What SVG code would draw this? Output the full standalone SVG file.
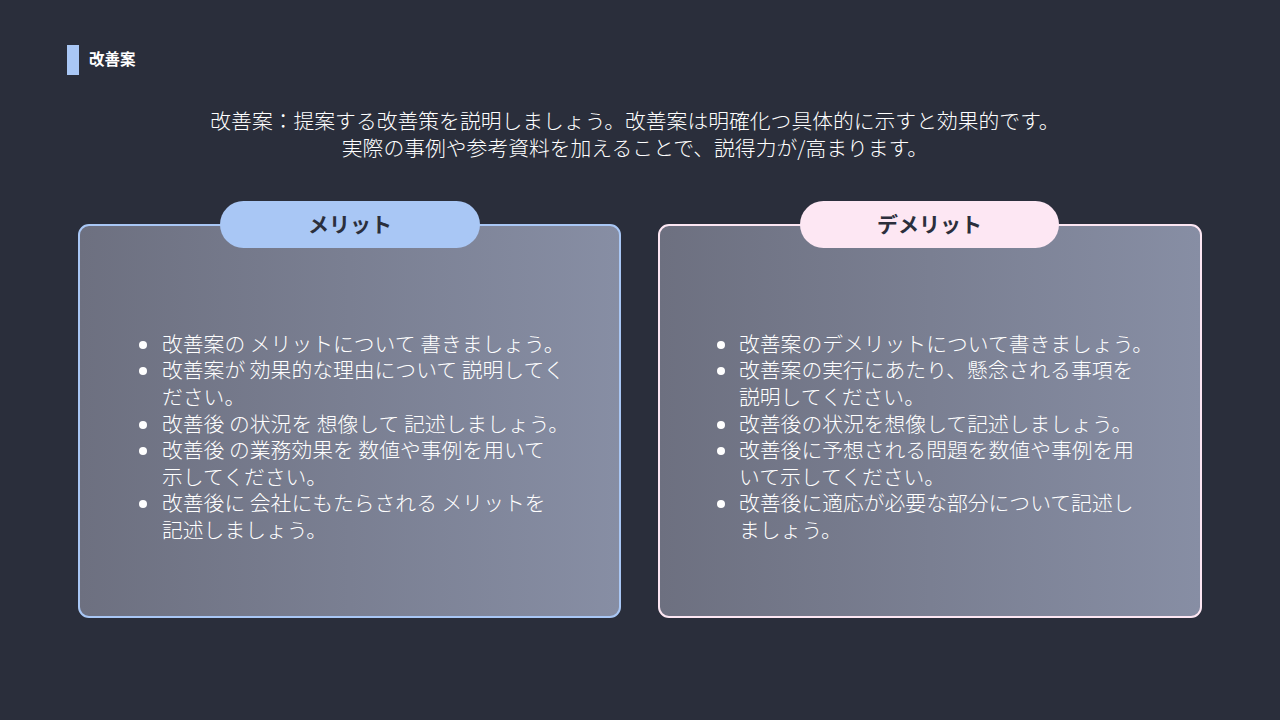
<svg xmlns="http://www.w3.org/2000/svg" width="1280" height="720" viewBox="0 0 1280 720">
<style>
text{font-family:"Noto Sans CJK JP","Noto Sans",sans-serif}
.b{fill:#fff;font-size:20.8px;font-weight:300}
.t{fill:#2b2f3c;font-size:21px;font-weight:bold}
.d{fill:#fff}
</style>
<defs>
<linearGradient id="g" x1="0" y1="0" x2="1" y2="0">
<stop offset="0" stop-color="#6d7080"/>
<stop offset="1" stop-color="#878ea4"/>
</linearGradient>
</defs>
<rect width="1280" height="720" fill="#2a2e3b"/>
<g id="header">
<rect x="67" y="45" width="12" height="30" fill="#a9c7f5"/>
<text x="89" y="65" fill="#fff" font-size="15.5" font-weight="bold">改善案</text>
</g>
<g id="subtitle" fill="#fff" font-size="20.8" font-weight="300" text-anchor="middle">
<text x="635" y="129">改善案：提案する改善策を説明しましょう。改善案は明確化つ具体的に示すと効果的です。</text>
<text x="635" y="156">実際の事例や参考資料を加えることで、説得力が/高まります。</text>
</g>
<g id="merit">
<rect x="79" y="225" width="541" height="392" rx="10" fill="url(#g)" stroke="#a9c7f5" stroke-width="2"/>
<rect x="220" y="201" width="260" height="47" rx="23.5" fill="#a9c7f5"/>
<text class="t" x="350" y="232" text-anchor="middle">メリット</text>
<g class="d"><circle cx="143" cy="345" r="4"/><circle cx="143" cy="371" r="4"/><circle cx="143" cy="425" r="4"/><circle cx="143" cy="451" r="4"/><circle cx="143" cy="504" r="4"/></g>
<text class="b" x="162" y="352">改善案の メリットについて 書きましょう。</text>
<text class="b" x="162" y="378">改善案が 効果的な理由について 説明してく</text>
<text class="b" x="162" y="405">ださい。</text>
<text class="b" x="162" y="432">改善後 の状況を 想像して 記述しましょう。</text>
<text class="b" x="162" y="458">改善後 の業務効果を 数値や事例を用いて</text>
<text class="b" x="162" y="485">示してください。</text>
<text class="b" x="162" y="511">改善後に 会社にもたらされる メリットを</text>
<text class="b" x="162" y="538">記述しましょう。</text>
</g>
<g id="demerit">
<rect x="659" y="225" width="542" height="392" rx="10" fill="url(#g)" stroke="#fde7f3" stroke-width="2"/>
<rect x="800" y="201" width="259" height="47" rx="23.5" fill="#fde7f3"/>
<text class="t" x="929.5" y="232" text-anchor="middle">デメリット</text>
<g class="d"><circle cx="721" cy="345" r="4"/><circle cx="721" cy="371" r="4"/><circle cx="721" cy="425" r="4"/><circle cx="721" cy="451" r="4"/><circle cx="721" cy="504" r="4"/></g>
<text class="b" x="739" y="352">改善案のデメリットについて書きましょう。</text>
<text class="b" x="739" y="378">改善案の実行にあたり、懸念される事項を</text>
<text class="b" x="739" y="405">説明してください。</text>
<text class="b" x="739" y="432">改善後の状況を想像して記述しましょう。</text>
<text class="b" x="739" y="458">改善後に予想される問題を数値や事例を用</text>
<text class="b" x="739" y="485">いて示してください。</text>
<text class="b" x="739" y="511">改善後に適応が必要な部分について記述し</text>
<text class="b" x="739" y="538">ましょう。</text>
</g>
</svg>
